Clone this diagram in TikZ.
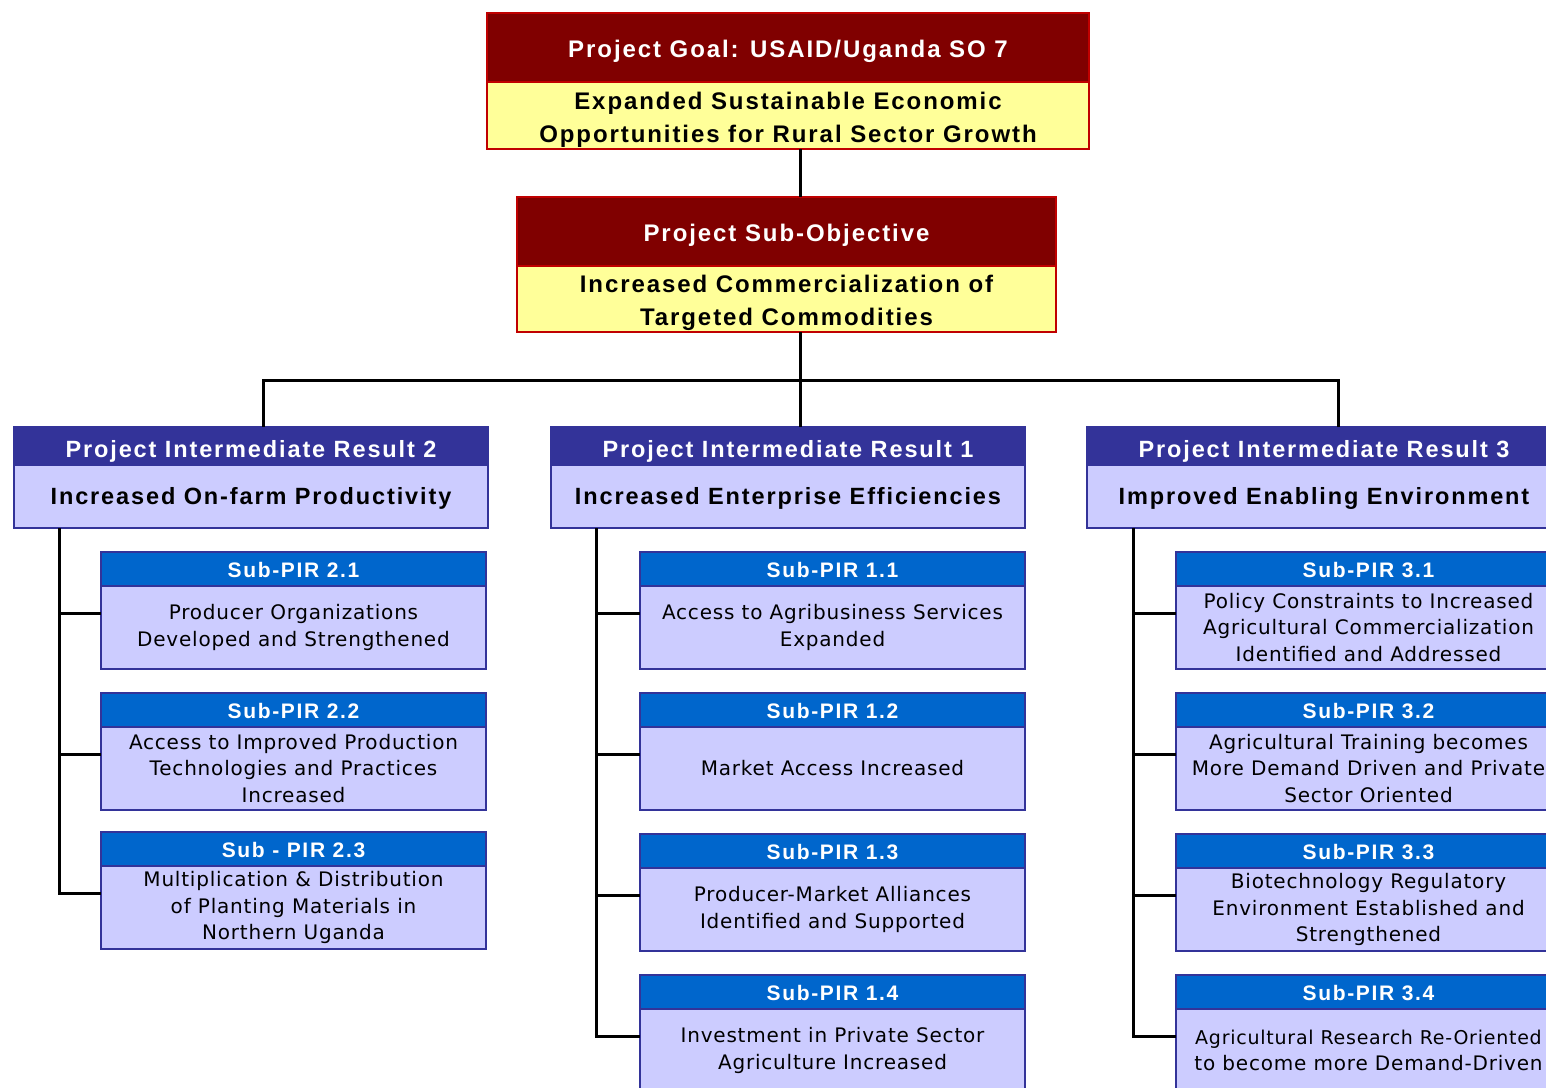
\documentclass[tikz,border=0pt]{standalone}
\usepackage{fontspec}
\newfontfamily\hfont[LetterSpace=8]{Liberation Sans}
\newfontfamily\sfont[LetterSpace=4]{DejaVu Sans}
\definecolor{goalred}{HTML}{800000}
\definecolor{goalborder}{HTML}{C00000}
\definecolor{yel}{HTML}{FFFF99}
\definecolor{irblue}{HTML}{333399}
\definecolor{lav}{HTML}{CCCCFF}
\definecolor{subblue}{HTML}{0066CC}
\newcommand\lift{\rule{0pt}{26pt}}
\tikzset{
  box/.style={inner sep=0pt, outer sep=0pt, anchor=north west, align=center},
  redhead/.style={box, draw=goalborder, line width=1.5pt, fill=goalred, text=white,
    text height=19.2pt, text depth=0pt,
    font=\hfont\bfseries\fontsize{24}{28}\selectfont},
  yelbody/.style={box, draw=goalborder, line width=1.5pt, fill=yel, text=black,
    font=\hfont\bfseries\fontsize{24}{33}\selectfont},
  irhead/.style={box, draw=irblue, line width=1.5pt, fill=irblue, text=white,
    minimum width=474pt, minimum height=38pt, text height=23.5pt, text depth=0pt,
    font=\hfont\bfseries\fontsize{23.5}{27}\selectfont},
  irbody/.style={box, draw=irblue, line width=1.5pt, fill=lav, text=black,
    minimum width=474pt, minimum height=63pt, text height=16.8pt, text depth=0pt,
    font=\hfont\bfseries\fontsize{23.5}{27}\selectfont},
  subhead/.style={box, draw=irblue, line width=2.5pt, fill=subblue, text=white,
    minimum width=385pt, minimum height=34pt, text height=16pt, text depth=0pt,
    font=\hfont\bfseries\fontsize{21}{25}\selectfont},
  subbody/.style={box, draw=irblue, line width=2.5pt, fill=lav, text=black,
    minimum width=385pt, minimum height=83pt,
    font=\sfont\fontsize{20}{26.5}\selectfont},
  conn/.style={draw=black, line width=3pt},
}
\newcommand\subbox[5]{%
  \node[subhead] (#1h) at (#2,#3) {#4};
  \node[subbody] (#1b) at (#2,#3+34) {#5};
  \coordinate (#1t) at ([yshift=-61pt]#1h.north west);
}
\begin{document}
\begin{tikzpicture}[x=1pt,y=-1pt]
\useasboundingbox (0,0) rectangle (1546,1087);
\clip (0,0) rectangle (1546,1087);
\fill[white] (0,0) rectangle (1546,1087);

% junction coordinates
\coordinate (trunk) at (800,380);
\coordinate (j2) at (263,380);
\coordinate (j3) at (1338,380);
\coordinate (rL) at (59,0);
\coordinate (rC) at (596,0);
\coordinate (rR) at (1133,0);

% top boxes
\node[redhead, minimum width=602pt, minimum height=69pt] (goalh) at (487,13) {Project Goal: USAID/Uganda SO 7};
\node[yelbody, minimum width=602pt, minimum height=67pt] (goalb) at (487,82) {\lift Expanded Sustainable Economic\\Opportunities for Rural Sector Growth};

\node[redhead, minimum width=539pt, minimum height=69pt] (subh) at (517,197) {Project Sub-Objective};
\node[yelbody, minimum width=539pt, minimum height=66pt] (subb) at (517,266) {\lift Increased Commercialization of\\Targeted Commodities};

% intermediate results
\node[irhead] (ir2h) at (14,427) {Project Intermediate Result 2};
\node[irbody] (ir2b) at (14,465) {Increased On-farm Productivity};
\node[irhead] (ir1h) at (551,427) {Project Intermediate Result 1};
\node[irbody] (ir1b) at (551,465) {Increased Enterprise Efficiencies};
\node[irhead] (ir3h) at (1087,427) {Project Intermediate Result 3};
\node[irbody] (ir3b) at (1087,465) {Improved Enabling Environment};

% sub-PIR boxes
\subbox{s21}{101}{552}{Sub-PIR 2.1}{Producer Organizations\\Developed and Strengthened}
\subbox{s22}{101}{693}{Sub-PIR 2.2}{Access to Improved Production\\Technologies and Practices\\Increased}
\subbox{s23}{101}{832}{Sub - PIR 2.3}{Multiplication \& Distribution\\of Planting Materials in\\Northern Uganda}

\subbox{s11}{640}{552}{Sub-PIR 1.1}{Access to Agribusiness Services\\Expanded}
\subbox{s12}{640}{693}{Sub-PIR 1.2}{Market Access Increased}
\subbox{s13}{640}{834}{Sub-PIR 1.3}{Producer-Market Alliances\\Identified and Supported}
\subbox{s14}{640}{975}{Sub-PIR 1.4}{Investment in Private Sector\\Agriculture Increased}

\subbox{s31}{1176}{552}{Sub-PIR 3.1}{Policy Constraints to Increased\\Agricultural Commercialization\\Identified and Addressed}
\subbox{s32}{1176}{693}{Sub-PIR 3.2}{Agricultural Training becomes\\More Demand Driven and Private\\Sector Oriented}
\subbox{s33}{1176}{834}{Sub-PIR 3.3}{Biotechnology Regulatory\\Environment Established and\\Strengthened}
\subbox{s34}{1176}{975}{Sub-PIR 3.4}{\fontsize{19}{26.5}\selectfont Agricultural Research Re-Oriented\\to become more Demand-Driven}

% connectors
\draw[conn] (trunk |- goalb.south) -- (trunk |- subh.north);
\draw[conn] (trunk |- subb.south) -- (trunk |- ir1h.north);
\draw[conn] (j2 |- ir2h.north) -- (j2) -- (j3) -- (j3 |- ir3h.north);

\draw[conn] (rL |- ir2b.south) |- (s23t);
\draw[conn] (s21t -| rL) -- (s21t);
\draw[conn] (s22t -| rL) -- (s22t);

\draw[conn] (rC |- ir1b.south) |- (s14t);
\draw[conn] (s11t -| rC) -- (s11t);
\draw[conn] (s12t -| rC) -- (s12t);
\draw[conn] (s13t -| rC) -- (s13t);

\draw[conn] (rR |- ir3b.south) |- (s34t);
\draw[conn] (s31t -| rR) -- (s31t);
\draw[conn] (s32t -| rR) -- (s32t);
\draw[conn] (s33t -| rR) -- (s33t);
\end{tikzpicture}
\end{document}
